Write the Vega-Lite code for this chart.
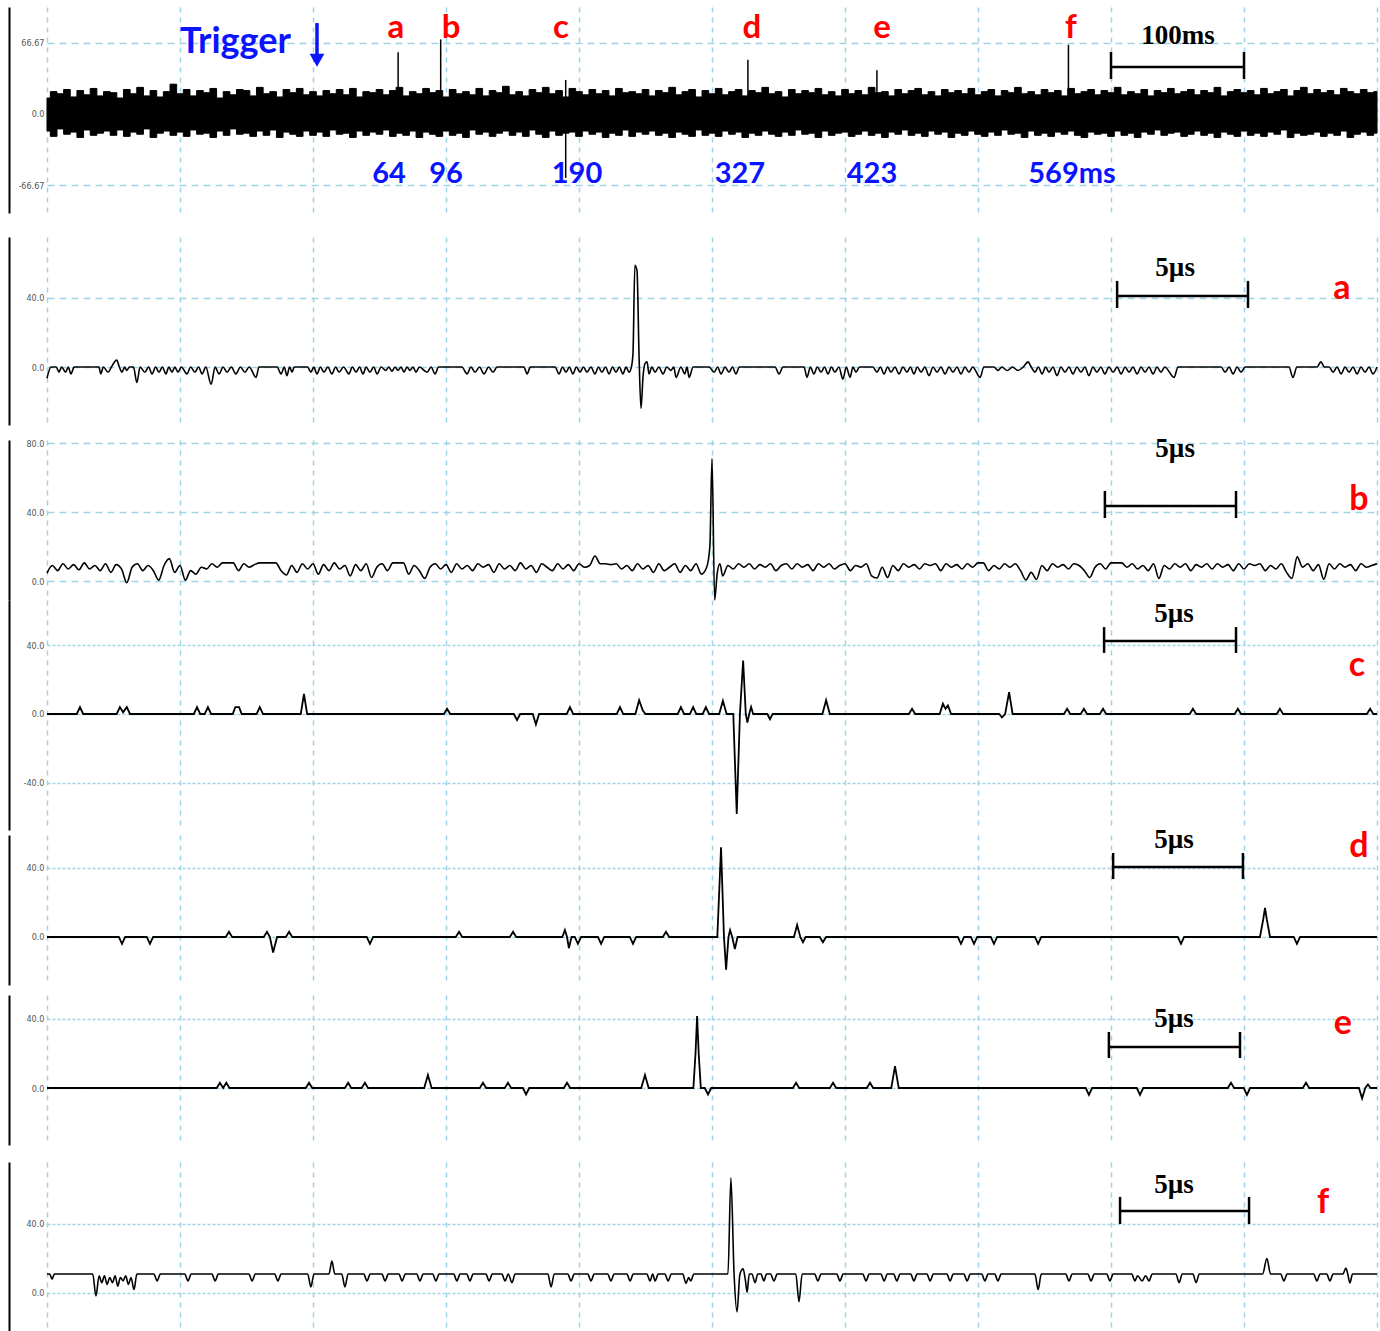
{
"$schema":"https://vega.github.io/schema/vega-lite/v6.json",
"background":"white",
"padding":{"left":9,"top":7,"right":0,"bottom":0},
"autosize":{"type":"pad"},
"config":{"view":{"stroke":null},"axis":{"labelFont":"Liberation Sans Narrow, DejaVu Sans Condensed, sans-serif","labelFontSize":9,"labelColor":"#555","domainColor":"#000","domainWidth":2,"gridColor":"#9fd3e8","gridWidth":1.5,"gridOpacity":1}},
"datasets":{
"top":[{"t":0,"hi":15,"lo":-16},{"t":5,"hi":21,"lo":-21},{"t":10,"hi":19,"lo":-14},{"t":15,"hi":23,"lo":-19},{"t":20,"hi":16,"lo":-17},{"t":25,"hi":22,"lo":-22},{"t":30,"hi":18,"lo":-15},{"t":35,"hi":24,"lo":-20},{"t":40,"hi":17,"lo":-18},{"t":45,"hi":21,"lo":-16},
{"t":50,"hi":20,"lo":-20},{"t":55,"hi":15,"lo":-15},{"t":60,"hi":23,"lo":-21},{"t":65,"hi":19,"lo":-17},{"t":70,"hi":25,"lo":-19},{"t":75,"hi":17,"lo":-14},{"t":80,"hi":22,"lo":-22},{"t":85,"hi":16,"lo":-18},{"t":90,"hi":21,"lo":-16},{"t":95,"hi":28,"lo":-20},
{"t":100,"hi":19,"lo":-17},{"t":105,"hi":23,"lo":-21},{"t":110,"hi":17,"lo":-15},{"t":115,"hi":22,"lo":-19},{"t":120,"hi":20,"lo":-18},{"t":125,"hi":24,"lo":-22},{"t":130,"hi":15,"lo":-16},{"t":135,"hi":21,"lo":-20},{"t":140,"hi":18,"lo":-14},{"t":145,"hi":23,"lo":-19},
{"t":150,"hi":22,"lo":-18},{"t":155,"hi":17,"lo":-21},{"t":160,"hi":25,"lo":-16},{"t":165,"hi":19,"lo":-20},{"t":170,"hi":21,"lo":-15},{"t":175,"hi":16,"lo":-22},{"t":180,"hi":23,"lo":-17},{"t":185,"hi":20,"lo":-19},{"t":190,"hi":24,"lo":-21},{"t":195,"hi":18,"lo":-16},
{"t":200,"hi":21,"lo":-20},{"t":205,"hi":17,"lo":-17},{"t":210,"hi":22,"lo":-21},{"t":215,"hi":19,"lo":-15},{"t":220,"hi":23,"lo":-19},{"t":225,"hi":18,"lo":-18},{"t":230,"hi":24,"lo":-22},{"t":235,"hi":16,"lo":-16},{"t":240,"hi":21,"lo":-20},{"t":245,"hi":20,"lo":-17},
{"t":250,"hi":23,"lo":-19},{"t":255,"hi":18,"lo":-15},{"t":260,"hi":22,"lo":-21},{"t":265,"hi":25,"lo":-18},{"t":270,"hi":17,"lo":-20},{"t":275,"hi":21,"lo":-16},{"t":280,"hi":19,"lo":-22},{"t":285,"hi":24,"lo":-17},{"t":290,"hi":20,"lo":-19},{"t":295,"hi":22,"lo":-21},
{"t":300,"hi":16,"lo":-16},{"t":305,"hi":23,"lo":-20},{"t":310,"hi":19,"lo":-18},{"t":315,"hi":21,"lo":-22},{"t":320,"hi":18,"lo":-15},{"t":325,"hi":24,"lo":-19},{"t":330,"hi":17,"lo":-17},{"t":335,"hi":22,"lo":-21},{"t":340,"hi":20,"lo":-18},{"t":345,"hi":26,"lo":-16},
{"t":350,"hi":18,"lo":-20},{"t":355,"hi":21,"lo":-17},{"t":360,"hi":17,"lo":-21},{"t":365,"hi":23,"lo":-15},{"t":370,"hi":20,"lo":-19},{"t":375,"hi":25,"lo":-22},{"t":380,"hi":19,"lo":-16},{"t":385,"hi":22,"lo":-20},{"t":390,"hi":16,"lo":-18},{"t":395,"hi":24,"lo":-17},
{"t":400,"hi":21,"lo":-21},{"t":405,"hi":18,"lo":-16},{"t":410,"hi":23,"lo":-19},{"t":415,"hi":19,"lo":-17},{"t":420,"hi":22,"lo":-22},{"t":425,"hi":17,"lo":-18},{"t":430,"hi":24,"lo":-20},{"t":435,"hi":20,"lo":-15},{"t":440,"hi":21,"lo":-21},{"t":445,"hi":19,"lo":-17},
{"t":450,"hi":23,"lo":-19},{"t":455,"hi":17,"lo":-16},{"t":460,"hi":22,"lo":-20},{"t":465,"hi":20,"lo":-18},{"t":470,"hi":25,"lo":-22},{"t":475,"hi":18,"lo":-17},{"t":480,"hi":21,"lo":-19},{"t":485,"hi":23,"lo":-21},{"t":490,"hi":16,"lo":-15},{"t":495,"hi":22,"lo":-20},
{"t":500,"hi":19,"lo":-18},{"t":505,"hi":24,"lo":-21},{"t":510,"hi":18,"lo":-16},{"t":515,"hi":21,"lo":-19},{"t":520,"hi":23,"lo":-17},{"t":525,"hi":17,"lo":-22},{"t":530,"hi":22,"lo":-18},{"t":535,"hi":20,"lo":-20},{"t":540,"hi":25,"lo":-16},{"t":545,"hi":19,"lo":-19},
{"t":550,"hi":21,"lo":-21},{"t":555,"hi":16,"lo":-17},{"t":560,"hi":23,"lo":-20},{"t":565,"hi":19,"lo":-15},{"t":570,"hi":22,"lo":-19},{"t":575,"hi":20,"lo":-18},{"t":580,"hi":24,"lo":-22},{"t":585,"hi":18,"lo":-16},{"t":590,"hi":21,"lo":-20},{"t":595,"hi":17,"lo":-18},
{"t":600,"hi":23,"lo":-17},{"t":605,"hi":19,"lo":-21},{"t":610,"hi":22,"lo":-19},{"t":615,"hi":18,"lo":-16},{"t":620,"hi":25,"lo":-20},{"t":625,"hi":20,"lo":-18},{"t":630,"hi":21,"lo":-22},{"t":635,"hi":17,"lo":-17},{"t":640,"hi":23,"lo":-19},{"t":645,"hi":19,"lo":-15},
{"t":650,"hi":22,"lo":-20},{"t":655,"hi":24,"lo":-18},{"t":660,"hi":18,"lo":-21},{"t":665,"hi":21,"lo":-16},{"t":670,"hi":17,"lo":-19},{"t":675,"hi":23,"lo":-17},{"t":680,"hi":20,"lo":-22},{"t":685,"hi":22,"lo":-18},{"t":690,"hi":19,"lo":-20},{"t":695,"hi":24,"lo":-16},
{"t":700,"hi":18,"lo":-19},{"t":705,"hi":21,"lo":-21},{"t":710,"hi":23,"lo":-17},{"t":715,"hi":17,"lo":-20},{"t":720,"hi":22,"lo":-15},{"t":725,"hi":20,"lo":-19},{"t":730,"hi":25,"lo":-18},{"t":735,"hi":19,"lo":-22},{"t":740,"hi":21,"lo":-16},{"t":745,"hi":18,"lo":-20},
{"t":750,"hi":23,"lo":-18},{"t":755,"hi":20,"lo":-21},{"t":760,"hi":22,"lo":-17},{"t":765,"hi":17,"lo":-19},{"t":770,"hi":24,"lo":-16},{"t":775,"hi":19,"lo":-20},{"t":780,"hi":21,"lo":-22},{"t":785,"hi":23,"lo":-17},{"t":790,"hi":18,"lo":-19},{"t":795,"hi":22,"lo":-18},
{"t":800,"hi":20,"lo":-21},{"t":805,"hi":25,"lo":-16},{"t":810,"hi":18,"lo":-20},{"t":815,"hi":21,"lo":-18},{"t":820,"hi":19,"lo":-22},{"t":825,"hi":23,"lo":-17},{"t":830,"hi":17,"lo":-19},{"t":835,"hi":22,"lo":-15},{"t":840,"hi":20,"lo":-20},{"t":845,"hi":24,"lo":-18},
{"t":850,"hi":19,"lo":-17},{"t":855,"hi":21,"lo":-21},{"t":860,"hi":23,"lo":-19},{"t":865,"hi":18,"lo":-16},{"t":870,"hi":22,"lo":-20},{"t":875,"hi":20,"lo":-18},{"t":880,"hi":25,"lo":-22},{"t":885,"hi":17,"lo":-17},{"t":890,"hi":21,"lo":-19},{"t":895,"hi":23,"lo":-21},
{"t":900,"hi":20,"lo":-16},{"t":905,"hi":22,"lo":-20},{"t":910,"hi":18,"lo":-18},{"t":915,"hi":24,"lo":-21},{"t":920,"hi":19,"lo":-17},{"t":925,"hi":21,"lo":-19},{"t":930,"hi":23,"lo":-15},{"t":935,"hi":17,"lo":-22},{"t":940,"hi":22,"lo":-18},{"t":945,"hi":25,"lo":-20},
{"t":950,"hi":19,"lo":-19},{"t":955,"hi":23,"lo":-17},{"t":960,"hi":20,"lo":-21},{"t":965,"hi":22,"lo":-18},{"t":970,"hi":18,"lo":-20},{"t":975,"hi":24,"lo":-16},{"t":980,"hi":21,"lo":-22},{"t":985,"hi":19,"lo":-19},{"t":990,"hi":23,"lo":-17},{"t":995,"hi":20,"lo":-20},
{"t":1000,"hi":21,"lo":-18}],
"topSpikes":[{"t":264,"y":0,"y2":58},{"t":296,"y":0,"y2":70},{"t":390,"y":32,"y2":-60},{"t":527,"y":0,"y2":51},{"t":624,"y":0,"y2":41},{"t":768,"y":0,"y2":65}],
"trigShaft":[{"t":203,"y":85.4,"y2":54}],
"trigHead":[{"t":203,"y":50.5}],
"trigText":[{"t":141.7,"y":57.3,"label":"Trigger"}],
"topLetters":[{"t":262.4,"y":71.4,"label":"a"},{"t":303.8,"y":71.4,"label":"b"},{"t":386.5,"y":71.4,"label":"c"},{"t":530,"y":71.4,"label":"d"},{"t":627.8,"y":71.4,"label":"e"},{"t":769.9,"y":71.4,"label":"f"}],
"topNums":[{"t":257.1,"y":-64.8,"label":"64"},{"t":300,"y":-64.8,"label":"96"},{"t":398.5,"y":-64.8,"label":"190"},{"t":521,"y":-64.8,"label":"327"},{"t":620.3,"y":-64.8,"label":"423"},{"t":770.7,"y":-64.8,"label":"569ms"}],
"bars":[
{"panel":"top","x":800,"x2":900,"y":44.1,"y2":44.1},{"panel":"top","x":800,"x2":800,"y":32.9,"y2":58.2},{"panel":"top","x":900,"x2":900,"y":32.9,"y2":58.2},
{"panel":"a","x":40.23,"x2":45.15,"y":41.2,"y2":41.2},{"panel":"a","x":40.23,"x2":40.23,"y":34.2,"y2":49.9},{"panel":"a","x":45.15,"x2":45.15,"y":34.2,"y2":49.9},
{"panel":"b","x":39.77,"x2":44.7,"y":43.5,"y2":43.5},{"panel":"b","x":39.77,"x2":39.77,"y":36.5,"y2":52.2},{"panel":"b","x":44.7,"x2":44.7,"y":36.5,"y2":52.2},
{"panel":"c","x":39.74,"x2":44.7,"y":42.3,"y2":42.3},{"panel":"c","x":39.74,"x2":39.74,"y":35.4,"y2":50.4},{"panel":"c","x":44.7,"x2":44.7,"y":35.4,"y2":50.4},
{"panel":"d","x":40.08,"x2":44.96,"y":40.6,"y2":40.6},{"panel":"d","x":40.08,"x2":40.08,"y":33.6,"y2":48.7},{"panel":"d","x":44.96,"x2":44.96,"y":33.6,"y2":48.7},
{"panel":"e","x":39.92,"x2":44.85,"y":23.8,"y2":23.8},{"panel":"e","x":39.92,"x2":39.92,"y":17.4,"y2":32.5},{"panel":"e","x":44.85,"x2":44.85,"y":17.4,"y2":32.5},
{"panel":"f","x":40.34,"x2":45.19,"y":47.5,"y2":47.5},{"panel":"f","x":40.34,"x2":40.34,"y":40.0,"y2":55.7},{"panel":"f","x":45.19,"x2":45.19,"y":40.0,"y2":55.7}],
"stext":[{"panel":"top","x":850.4,"y":65.7,"label":"100ms"},{"panel":"a","x":42.41,"y":52.8,"label":"5µs"},{"panel":"b","x":42.41,"y":71.9,"label":"5µs"},{"panel":"c","x":42.37,"y":53.3,"label":"5µs"},{"panel":"d","x":42.37,"y":51.6,"label":"5µs"},{"panel":"e","x":42.37,"y":35.4,"label":"5µs"},{"panel":"f","x":42.37,"y":58.0,"label":"5µs"}],
"letters":[{"panel":"a","x":48.68,"y":39.4,"label":"a"},{"panel":"b","x":49.32,"y":41.2,"label":"b"},{"panel":"c","x":49.25,"y":22.0,"label":"c"},{"panel":"d","x":49.32,"y":46.4,"label":"d"},{"panel":"e","x":48.72,"y":31.3,"label":"e"},{"panel":"f","x":47.97,"y":46.4,"label":"f"}],
"a":[{"x":0,"y":-6.5},{"x":0.15,"y":0},{"x":0.35,"y":0},{"x":0.45,"y":-3},{"x":0.55,"y":0},{"x":0.7,"y":-3},{"x":0.8,"y":0},{"x":0.9,"y":-4},{"x":1.02,"y":0},
{"x":1.95,"y":0},{"x":2.02,"y":-4},{"x":2.12,"y":0},{"x":2.3,"y":-3},{"x":2.42,"y":0},{"x":2.62,"y":4},{"x":2.72,"y":0},{"x":2.82,"y":-3},{"x":2.92,"y":0},{"x":3.0,"y":-2},{"x":3.1,"y":0},{"x":3.25,"y":0},{"x":3.38,"y":-9},{"x":3.5,"y":0},
{"x":3.68,"y":-3},{"x":3.82,"y":0},{"x":3.95,"y":-4},{"x":4.08,"y":0},{"x":4.21,"y":-3},{"x":4.34,"y":0},{"x":4.47,"y":-4},{"x":4.58,"y":0},{"x":4.7,"y":-3},{"x":4.81,"y":0},{"x":4.92,"y":-3},{"x":5.05,"y":0},
{"x":5.26,"y":-4},{"x":5.4,"y":0},{"x":5.56,"y":-3},{"x":5.7,"y":0},{"x":5.83,"y":-4},{"x":5.97,"y":0},{"x":6.17,"y":-10},{"x":6.32,"y":0},{"x":6.47,"y":-4},{"x":6.62,"y":0},{"x":6.77,"y":-3},{"x":6.93,"y":0},{"x":7.1,"y":-4},{"x":7.27,"y":0},{"x":7.44,"y":-3},{"x":7.6,"y":0},{"x":7.86,"y":-6},{"x":7.97,"y":0},
{"x":8.65,"y":0},{"x":8.8,"y":-4},{"x":8.92,"y":0},{"x":9.02,"y":-5},{"x":9.12,"y":0},{"x":9.21,"y":-3},{"x":9.3,"y":0},
{"x":9.8,"y":0},{"x":9.92,"y":-3},{"x":10.03,"y":0},{"x":10.15,"y":-4},{"x":10.28,"y":0},{"x":10.41,"y":-3},{"x":10.56,"y":0},{"x":10.71,"y":-4},{"x":10.85,"y":0},{"x":10.98,"y":-3},{"x":11.15,"y":0},{"x":11.35,"y":-4},{"x":11.48,"y":0},{"x":11.62,"y":-3},{"x":11.75,"y":0},{"x":11.88,"y":-4},{"x":12.0,"y":0},{"x":12.14,"y":-3},{"x":12.28,"y":0},{"x":12.41,"y":-4},{"x":12.56,"y":0},{"x":12.74,"y":-2},{"x":12.85,"y":0},{"x":12.97,"y":-2.5},{"x":13.08,"y":0},{"x":13.2,"y":-2},{"x":13.31,"y":0},{"x":13.42,"y":-3},{"x":13.53,"y":0},{"x":13.65,"y":-2},{"x":13.76,"y":0},{"x":13.87,"y":-3},{"x":14.0,"y":0},{"x":14.29,"y":-3},{"x":14.44,"y":0},{"x":14.59,"y":-4},{"x":14.72,"y":0},
{"x":15.6,"y":0},{"x":15.79,"y":-4},{"x":15.94,"y":0},{"x":16.09,"y":-3},{"x":16.26,"y":0},{"x":16.43,"y":-4},{"x":16.6,"y":0},{"x":16.77,"y":-3},{"x":16.92,"y":0},
{"x":17.93,"y":0},{"x":18.05,"y":-4},{"x":18.17,"y":0},
{"x":19.1,"y":0},{"x":19.25,"y":-4},{"x":19.38,"y":0},{"x":19.51,"y":-3},{"x":19.64,"y":0},{"x":19.77,"y":-4},{"x":19.9,"y":0},{"x":20.04,"y":-3},{"x":20.17,"y":0},{"x":20.3,"y":-3},{"x":20.45,"y":0},{"x":20.6,"y":-4},{"x":20.73,"y":0},{"x":20.86,"y":-3},{"x":21.0,"y":0},{"x":21.13,"y":-4},{"x":21.26,"y":0},{"x":21.39,"y":-3},{"x":21.52,"y":0},{"x":21.65,"y":-4},{"x":21.77,"y":0},{"x":21.88,"y":-3},
{"x":21.97,"y":0},{"x":22.03,"y":8},{"x":22.1,"y":59},{"x":22.18,"y":56},{"x":22.26,"y":5},{"x":22.33,"y":-24},{"x":22.41,"y":-5},{"x":22.48,"y":2},{"x":22.56,"y":3},{"x":22.63,"y":-4},{"x":22.74,"y":0},{"x":22.86,"y":-3},{"x":23.0,"y":0},{"x":23.16,"y":-4},{"x":23.3,"y":0},{"x":23.46,"y":-2},{"x":23.56,"y":0},{"x":23.65,"y":-6},{"x":23.83,"y":0},{"x":23.98,"y":-4},{"x":24.06,"y":0},{"x":24.14,"y":-6},{"x":24.29,"y":0},
{"x":24.89,"y":0},{"x":25.08,"y":-3},{"x":25.21,"y":0},{"x":25.34,"y":-4},{"x":25.49,"y":0},{"x":25.64,"y":-3},{"x":25.77,"y":0},{"x":25.9,"y":-4},{"x":26.03,"y":0},
{"x":27.37,"y":0},{"x":27.52,"y":-4},{"x":27.67,"y":0},
{"x":28.46,"y":0},{"x":28.57,"y":-6},{"x":28.7,"y":0},{"x":28.83,"y":-4},{"x":28.96,"y":0},{"x":29.1,"y":-3},{"x":29.23,"y":0},{"x":29.36,"y":-4},{"x":29.49,"y":0},{"x":29.62,"y":-3},{"x":29.77,"y":0},{"x":29.92,"y":-7},{"x":30.05,"y":0},{"x":30.19,"y":-6},{"x":30.3,"y":0},{"x":30.41,"y":-3},{"x":30.55,"y":0},
{"x":31.05,"y":0},{"x":31.2,"y":-3},{"x":31.33,"y":0},{"x":31.47,"y":-4},{"x":31.6,"y":0},{"x":31.73,"y":-3},{"x":31.88,"y":0},{"x":32.03,"y":-4},{"x":32.18,"y":0},{"x":32.33,"y":-3},{"x":32.46,"y":0},{"x":32.59,"y":-4},{"x":32.72,"y":0},{"x":32.86,"y":-3},{"x":33.0,"y":0},{"x":33.16,"y":-5},{"x":33.31,"y":0},{"x":33.46,"y":-3},{"x":33.61,"y":0},{"x":33.76,"y":-4},{"x":33.91,"y":0},{"x":34.06,"y":-3},{"x":34.21,"y":0},{"x":34.36,"y":-4},{"x":34.51,"y":0},{"x":34.66,"y":-3},{"x":34.8,"y":0},{"x":35.08,"y":-6},{"x":35.22,"y":0},
{"x":35.6,"y":0},{"x":35.75,"y":-2},{"x":35.9,"y":0},{"x":36.1,"y":-2},{"x":36.3,"y":0},{"x":36.5,"y":-2},{"x":36.7,"y":0},{"x":36.88,"y":3},{"x":37.0,"y":0},{"x":37.14,"y":-3},{"x":37.27,"y":0},{"x":37.41,"y":-4},{"x":37.54,"y":0},{"x":37.67,"y":-3},{"x":37.82,"y":0},{"x":37.97,"y":-5},{"x":38.12,"y":0},{"x":38.27,"y":-3},{"x":38.42,"y":0},{"x":38.57,"y":-4},{"x":38.72,"y":0},{"x":38.87,"y":-3},{"x":39.02,"y":0},{"x":39.17,"y":-5},{"x":39.32,"y":0},{"x":39.47,"y":-3},{"x":39.62,"y":0},{"x":39.77,"y":-4},{"x":39.92,"y":0},{"x":40.08,"y":-3},{"x":40.23,"y":0},{"x":40.38,"y":-4},{"x":40.53,"y":0},{"x":40.68,"y":-3},{"x":40.83,"y":0},{"x":40.98,"y":-4},{"x":41.13,"y":0},{"x":41.28,"y":-3},{"x":41.43,"y":0},{"x":41.58,"y":-4},{"x":41.73,"y":0},{"x":41.88,"y":-3},{"x":42.02,"y":0},{"x":42.37,"y":-6},{"x":42.52,"y":0},
{"x":44.14,"y":0},{"x":44.29,"y":-3},{"x":44.44,"y":0},{"x":44.59,"y":-4},{"x":44.74,"y":0},{"x":44.89,"y":-3},{"x":45.04,"y":0},
{"x":46.69,"y":0},{"x":46.84,"y":-6},{"x":46.99,"y":0},
{"x":47.75,"y":0},{"x":47.89,"y":3},{"x":48.02,"y":0},{"x":48.2,"y":0},{"x":48.35,"y":-3},{"x":48.5,"y":0},{"x":48.65,"y":-4},{"x":48.8,"y":0},{"x":48.95,"y":-3},{"x":49.1,"y":0},{"x":49.25,"y":-4},{"x":49.4,"y":0},{"x":49.55,"y":-3},{"x":49.7,"y":0},{"x":49.85,"y":-4},{"x":50,"y":0}],
"b":[{"x":0,"y":4.6},{"x":0.2,"y":9},{"x":0.4,"y":6},{"x":0.6,"y":10},{"x":0.8,"y":7},{"x":1,"y":9.5},{"x":1.2,"y":6.5},{"x":1.4,"y":10.5},{"x":1.6,"y":7},{"x":1.8,"y":9},
{"x":2,"y":6},{"x":2.2,"y":10},{"x":2.4,"y":5},{"x":2.6,"y":9.5},{"x":2.8,"y":7},{"x":3,"y":-1},{"x":3.2,"y":8},{"x":3.4,"y":10},{"x":3.6,"y":6},{"x":3.8,"y":9},
{"x":4,"y":6},{"x":4.2,"y":0.5},{"x":4.4,"y":9},{"x":4.6,"y":13},{"x":4.8,"y":5},{"x":5,"y":9},{"x":5.2,"y":0.5},{"x":5.4,"y":6},{"x":5.6,"y":4},{"x":5.8,"y":8},
{"x":6,"y":7},{"x":6.2,"y":10},{"x":6.4,"y":8},{"x":6.6,"y":10.5},{"x":6.8,"y":10.5},{"x":7,"y":10.5},{"x":7.2,"y":6},{"x":7.4,"y":10},{"x":7.6,"y":8},{"x":7.8,"y":9.5},
{"x":8,"y":10.5},{"x":8.2,"y":10.5},{"x":8.4,"y":10.5},{"x":8.6,"y":10.5},{"x":8.8,"y":6},{"x":9,"y":3.5},{"x":9.2,"y":9},{"x":9.4,"y":5},{"x":9.6,"y":10},{"x":9.8,"y":7},
{"x":10,"y":10},{"x":10.2,"y":4},{"x":10.4,"y":9.5},{"x":10.6,"y":6},{"x":10.8,"y":10.5},{"x":11,"y":7},{"x":11.2,"y":9},{"x":11.4,"y":3},{"x":11.6,"y":9.5},{"x":11.8,"y":6},
{"x":12,"y":10},{"x":12.2,"y":2},{"x":12.4,"y":8},{"x":12.6,"y":10},{"x":12.8,"y":6},{"x":13,"y":10.5},{"x":13.2,"y":10.5},{"x":13.4,"y":10.5},{"x":13.6,"y":4},{"x":13.8,"y":9},
{"x":14,"y":6},{"x":14.2,"y":1.5},{"x":14.4,"y":8},{"x":14.6,"y":10},{"x":14.8,"y":7},{"x":15,"y":9.5},{"x":15.2,"y":5},{"x":15.4,"y":10},{"x":15.6,"y":7},{"x":15.8,"y":9},
{"x":16,"y":6},{"x":16.2,"y":10},{"x":16.4,"y":8},{"x":16.6,"y":9.5},{"x":16.8,"y":5},{"x":17,"y":10},{"x":17.2,"y":7},{"x":17.4,"y":9},{"x":17.6,"y":6},{"x":17.8,"y":10.5},
{"x":18,"y":7},{"x":18.2,"y":9},{"x":18.4,"y":5},{"x":18.6,"y":10},{"x":18.8,"y":8},{"x":19,"y":6},{"x":19.2,"y":10},{"x":19.4,"y":7},{"x":19.6,"y":9.5},{"x":19.8,"y":6},
{"x":20,"y":10},{"x":20.2,"y":8},{"x":20.4,"y":9},{"x":20.6,"y":14.5},{"x":20.8,"y":10},{"x":21,"y":10},{"x":21.2,"y":9.5},{"x":21.4,"y":10},{"x":21.6,"y":7},{"x":21.8,"y":9},
{"x":22,"y":6},{"x":22.2,"y":10},{"x":22.4,"y":7},{"x":22.6,"y":9},{"x":22.8,"y":5},{"x":23,"y":10},{"x":23.2,"y":6},{"x":23.4,"y":8},{"x":23.6,"y":10},{"x":23.8,"y":5},
{"x":24,"y":9},{"x":24.2,"y":6},{"x":24.4,"y":10},{"x":24.6,"y":4},{"x":24.8,"y":8},{"x":24.92,"y":20},{"x":25.0,"y":71},{"x":25.1,"y":-11},{"x":25.2,"y":5},{"x":25.3,"y":10},{"x":25.4,"y":3},{"x":25.6,"y":9},{"x":25.8,"y":7},
{"x":26,"y":10},{"x":26.2,"y":8},{"x":26.4,"y":10},{"x":26.6,"y":7},{"x":26.8,"y":9.5},{"x":27,"y":8},{"x":27.2,"y":10},{"x":27.4,"y":6},{"x":27.6,"y":9},{"x":27.8,"y":10},
{"x":28,"y":7},{"x":28.2,"y":10},{"x":28.4,"y":8},{"x":28.6,"y":9.5},{"x":28.8,"y":6},{"x":29,"y":10},{"x":29.2,"y":8},{"x":29.4,"y":10},{"x":29.6,"y":7},{"x":29.8,"y":9},
{"x":30,"y":10},{"x":30.2,"y":6},{"x":30.4,"y":9},{"x":30.6,"y":8},{"x":30.8,"y":10},{"x":31,"y":3},{"x":31.2,"y":1.7},{"x":31.4,"y":8},{"x":31.6,"y":2},{"x":31.8,"y":9},
{"x":32,"y":6},{"x":32.2,"y":10},{"x":32.4,"y":8},{"x":32.6,"y":9.5},{"x":32.8,"y":7},{"x":33,"y":10},{"x":33.2,"y":9},{"x":33.4,"y":10},{"x":33.6,"y":6},{"x":33.8,"y":10},
{"x":34,"y":8},{"x":34.2,"y":9.5},{"x":34.4,"y":7},{"x":34.6,"y":10},{"x":34.8,"y":8},{"x":35,"y":10.5},{"x":35.2,"y":10.5},{"x":35.4,"y":6},{"x":35.6,"y":9},{"x":35.8,"y":7},
{"x":36,"y":10},{"x":36.2,"y":8},{"x":36.4,"y":10},{"x":36.6,"y":6},{"x":36.8,"y":0.6},{"x":37,"y":5},{"x":37.2,"y":1},{"x":37.4,"y":9},{"x":37.6,"y":6},{"x":37.8,"y":10},
{"x":38,"y":8},{"x":38.2,"y":9.5},{"x":38.4,"y":7},{"x":38.6,"y":10},{"x":38.8,"y":9},{"x":39,"y":6},{"x":39.2,"y":2},{"x":39.4,"y":8},{"x":39.6,"y":10},{"x":39.8,"y":7},
{"x":40,"y":10.5},{"x":40.2,"y":10.5},{"x":40.4,"y":10.5},{"x":40.6,"y":8},{"x":40.8,"y":10},{"x":41,"y":7},{"x":41.2,"y":9},{"x":41.4,"y":6},{"x":41.6,"y":10},{"x":41.8,"y":1.5},
{"x":42,"y":9},{"x":42.2,"y":7},{"x":42.4,"y":10},{"x":42.6,"y":8},{"x":42.8,"y":10},{"x":43,"y":6},{"x":43.2,"y":9.5},{"x":43.4,"y":8},{"x":43.6,"y":10},{"x":43.8,"y":7},
{"x":44,"y":10},{"x":44.2,"y":8},{"x":44.4,"y":9.5},{"x":44.6,"y":6},{"x":44.8,"y":10},{"x":45,"y":7},{"x":45.2,"y":10},{"x":45.4,"y":9},{"x":45.6,"y":10},{"x":45.8,"y":6},
{"x":46,"y":9},{"x":46.2,"y":7},{"x":46.4,"y":10},{"x":46.6,"y":5},{"x":46.8,"y":1.5},{"x":47,"y":14},{"x":47.2,"y":8},{"x":47.4,"y":10},{"x":47.6,"y":6},{"x":47.8,"y":9.5},
{"x":48,"y":1},{"x":48.2,"y":10},{"x":48.4,"y":7},{"x":48.6,"y":10},{"x":48.8,"y":8},{"x":49,"y":9.5},{"x":49.2,"y":6},{"x":49.4,"y":10},{"x":49.6,"y":8},{"x":49.8,"y":9},{"x":50,"y":10}],
"c":[{"x":0,"y":0},{"x":1.12,"y":0},{"x":1.24,"y":4},{"x":1.36,"y":0},{"x":2.62,"y":0},{"x":2.74,"y":4},{"x":2.86,"y":1},{"x":3.0,"y":4},{"x":3.12,"y":0},{"x":5.52,"y":0},{"x":5.64,"y":4},{"x":5.76,"y":0},{"x":5.93,"y":0},{"x":6.05,"y":4},{"x":6.17,"y":0},{"x":6.98,"y":0},{"x":7.08,"y":4},{"x":7.22,"y":4},{"x":7.32,"y":0},{"x":7.88,"y":0},{"x":8.0,"y":4},{"x":8.12,"y":0},{"x":9.54,"y":0},{"x":9.66,"y":11.6},{"x":9.78,"y":0},{"x":14.92,"y":0},{"x":15.04,"y":3},{"x":15.16,"y":0},{"x":17.55,"y":0},{"x":17.67,"y":-3.5},{"x":17.79,"y":0},{"x":18.26,"y":0},{"x":18.38,"y":-6},{"x":18.5,"y":0},{"x":19.54,"y":0},{"x":19.66,"y":4},{"x":19.78,"y":0},{"x":21.42,"y":0},{"x":21.54,"y":4},{"x":21.66,"y":0},{"x":22.12,"y":0},{"x":22.26,"y":8},{"x":22.4,"y":2},{"x":22.5,"y":0},{"x":23.71,"y":0},{"x":23.83,"y":4},{"x":23.95,"y":0},{"x":24.17,"y":0},{"x":24.29,"y":4},{"x":24.41,"y":0},{"x":24.65,"y":0},{"x":24.77,"y":4},{"x":24.89,"y":0},{"x":25.27,"y":0},{"x":25.41,"y":7.7},{"x":25.55,"y":0},{"x":25.8,"y":0},{"x":25.93,"y":-58},{"x":26.05,"y":0},{"x":26.17,"y":31},{"x":26.27,"y":0},{"x":26.33,"y":-5},{"x":26.4,"y":0},{"x":26.47,"y":4},{"x":26.55,"y":0},{"x":27.08,"y":0},{"x":27.18,"y":-3},{"x":27.28,"y":0},{"x":29.15,"y":0},{"x":29.29,"y":8},{"x":29.43,"y":0},{"x":32.4,"y":0},{"x":32.52,"y":3},{"x":32.64,"y":0},{"x":33.56,"y":0},{"x":33.68,"y":6},{"x":33.78,"y":3},{"x":33.87,"y":5},{"x":33.99,"y":0},{"x":35.8,"y":0},{"x":35.9,"y":-2},{"x":36.02,"y":0},{"x":36.17,"y":12.7},{"x":36.3,"y":0},{"x":38.23,"y":0},{"x":38.35,"y":3},{"x":38.47,"y":0},{"x":38.86,"y":0},{"x":38.98,"y":3},{"x":39.1,"y":0},{"x":39.58,"y":0},{"x":39.7,"y":3},{"x":39.82,"y":0},{"x":42.96,"y":0},{"x":43.08,"y":3},{"x":43.2,"y":0},{"x":44.65,"y":0},{"x":44.77,"y":3},{"x":44.89,"y":0},{"x":46.23,"y":0},{"x":46.35,"y":3},{"x":46.47,"y":0},{"x":49.62,"y":0},{"x":49.74,"y":3},{"x":49.86,"y":0},{"x":50,"y":0}],
"d":[{"x":0,"y":0},{"x":2.7,"y":0},{"x":2.82,"y":-4},{"x":2.94,"y":0},{"x":3.75,"y":0},{"x":3.87,"y":-4},{"x":3.99,"y":0},{"x":6.72,"y":0},{"x":6.84,"y":3},{"x":6.96,"y":0},{"x":8.15,"y":0},{"x":8.27,"y":3},{"x":8.38,"y":0},{"x":8.5,"y":-9},{"x":8.65,"y":0},{"x":8.98,"y":0},{"x":9.1,"y":3},{"x":9.22,"y":0},{"x":12.02,"y":0},{"x":12.14,"y":-4},{"x":12.26,"y":0},{"x":15.37,"y":0},{"x":15.49,"y":3},{"x":15.61,"y":0},{"x":17.4,"y":0},{"x":17.52,"y":3},{"x":17.64,"y":0},{"x":19.37,"y":0},{"x":19.47,"y":4},{"x":19.55,"y":0},{"x":19.62,"y":-6.5},{"x":19.72,"y":0},{"x":19.84,"y":0},{"x":19.96,"y":-4},{"x":20.08,"y":0},{"x":20.71,"y":0},{"x":20.83,"y":-4},{"x":20.95,"y":0},{"x":21.91,"y":0},{"x":22.03,"y":-4},{"x":22.15,"y":0},{"x":23.15,"y":0},{"x":23.27,"y":3},{"x":23.39,"y":0},{"x":25.2,"y":0},{"x":25.34,"y":52},{"x":25.45,"y":0},{"x":25.53,"y":-19},{"x":25.62,"y":0},{"x":25.68,"y":4},{"x":25.76,"y":0},{"x":25.86,"y":-7},{"x":25.96,"y":0},{"x":28.08,"y":0},{"x":28.2,"y":7},{"x":28.32,"y":0},{"x":28.42,"y":-3},{"x":28.52,"y":0},{"x":29.05,"y":0},{"x":29.17,"y":-3},{"x":29.29,"y":0},{"x":34.24,"y":0},{"x":34.36,"y":-4},{"x":34.48,"y":0},{"x":34.73,"y":0},{"x":34.85,"y":-4},{"x":34.97,"y":0},{"x":35.48,"y":0},{"x":35.6,"y":-4},{"x":35.72,"y":0},{"x":37.14,"y":0},{"x":37.26,"y":-4},{"x":37.38,"y":0},{"x":42.51,"y":0},{"x":42.63,"y":-4},{"x":42.75,"y":0},{"x":45.6,"y":0},{"x":45.72,"y":10},{"x":45.79,"y":16.8},{"x":45.86,"y":10},{"x":45.98,"y":0},{"x":46.87,"y":0},{"x":46.99,"y":-4},{"x":47.11,"y":0},{"x":50,"y":0}],
"e":[{"x":0,"y":0},{"x":6.38,"y":0},{"x":6.5,"y":3},{"x":6.62,"y":0},{"x":6.74,"y":3},{"x":6.86,"y":0},{"x":9.73,"y":0},{"x":9.85,"y":3},{"x":9.97,"y":0},{"x":11.2,"y":0},{"x":11.32,"y":3},{"x":11.44,"y":0},{"x":11.83,"y":0},{"x":11.95,"y":3},{"x":12.07,"y":0},{"x":14.18,"y":0},{"x":14.32,"y":7.5},{"x":14.46,"y":0},{"x":16.27,"y":0},{"x":16.39,"y":3},{"x":16.51,"y":0},{"x":17.21,"y":0},{"x":17.33,"y":3},{"x":17.45,"y":0},{"x":17.89,"y":0},{"x":18.01,"y":-3.7},{"x":18.13,"y":0},{"x":19.43,"y":0},{"x":19.55,"y":3},{"x":19.67,"y":0},{"x":22.34,"y":0},{"x":22.48,"y":7.5},{"x":22.62,"y":0},{"x":24.3,"y":0},{"x":24.38,"y":20},{"x":24.44,"y":41.7},{"x":24.5,"y":20},{"x":24.58,"y":0},{"x":24.73,"y":0},{"x":24.85,"y":-3.7},{"x":24.97,"y":0},{"x":28.04,"y":0},{"x":28.16,"y":3},{"x":28.28,"y":0},{"x":29.43,"y":0},{"x":29.55,"y":3},{"x":29.67,"y":0},{"x":30.82,"y":0},{"x":30.94,"y":3},{"x":31.06,"y":0},{"x":31.74,"y":0},{"x":31.88,"y":12.7},{"x":32.02,"y":0},{"x":39.05,"y":0},{"x":39.17,"y":-4},{"x":39.29,"y":0},{"x":40.97,"y":0},{"x":41.09,"y":-4},{"x":41.21,"y":0},{"x":44.39,"y":0},{"x":44.51,"y":3},{"x":44.63,"y":0},{"x":44.99,"y":0},{"x":45.11,"y":-4},{"x":45.23,"y":0},{"x":47.21,"y":0},{"x":47.33,"y":3},{"x":47.45,"y":0},{"x":49.32,"y":0},{"x":49.44,"y":-6},{"x":49.56,"y":0},{"x":49.66,"y":2},{"x":49.76,"y":0},{"x":50,"y":0}],
"f":[{"x":0,"y":11},{"x":0.1,"y":11},{"x":0.19,"y":8},{"x":0.28,"y":11},{"x":1.72,"y":11},{"x":1.84,"y":-1.7},{"x":1.96,"y":10},{"x":2.06,"y":6},{"x":2.16,"y":10},{"x":2.26,"y":5},{"x":2.36,"y":9},{"x":2.46,"y":6},{"x":2.56,"y":10},{"x":2.66,"y":4},{"x":2.76,"y":9},{"x":2.86,"y":7},{"x":2.96,"y":10},{"x":3.06,"y":5},{"x":3.16,"y":9},{"x":3.27,"y":2},{"x":3.38,"y":11},
{"x":4.02,"y":11},{"x":4.14,"y":7},{"x":4.26,"y":11},{"x":5.18,"y":11},{"x":5.3,"y":7},{"x":5.42,"y":11},{"x":6.2,"y":11},{"x":6.32,"y":7},{"x":6.44,"y":11},{"x":7.59,"y":11},{"x":7.71,"y":7},{"x":7.83,"y":11},{"x":8.56,"y":11},{"x":8.68,"y":7},{"x":8.8,"y":11},{"x":9.8,"y":11},{"x":9.92,"y":3.5},{"x":10.04,"y":11},{"x":10.6,"y":11},{"x":10.71,"y":18.5},{"x":10.82,"y":11},{"x":11.08,"y":11},{"x":11.2,"y":3.5},{"x":11.32,"y":11},
{"x":11.91,"y":11},{"x":12.03,"y":7},{"x":12.15,"y":11},{"x":12.59,"y":11},{"x":12.71,"y":7},{"x":12.83,"y":11},{"x":13.23,"y":11},{"x":13.35,"y":7},{"x":13.47,"y":11},{"x":13.9,"y":11},{"x":14.02,"y":7},{"x":14.14,"y":11},{"x":14.5,"y":11},{"x":14.62,"y":7},{"x":14.74,"y":11},{"x":15.29,"y":11},{"x":15.41,"y":7},{"x":15.53,"y":11},{"x":15.78,"y":11},{"x":15.9,"y":7},{"x":16.02,"y":11},{"x":16.5,"y":11},{"x":16.62,"y":7},{"x":16.74,"y":11},{"x":17.1,"y":11},{"x":17.22,"y":7},{"x":17.34,"y":11},{"x":17.48,"y":6},{"x":17.6,"y":11},
{"x":18.83,"y":11},{"x":18.95,"y":3.5},{"x":19.07,"y":11},{"x":19.58,"y":11},{"x":19.7,"y":7},{"x":19.82,"y":11},{"x":20.33,"y":11},{"x":20.45,"y":7},{"x":20.57,"y":11},{"x":21.08,"y":11},{"x":21.2,"y":7},{"x":21.32,"y":11},{"x":21.8,"y":11},{"x":21.92,"y":7},{"x":22.04,"y":11},{"x":22.55,"y":11},{"x":22.67,"y":7},{"x":22.77,"y":11},{"x":22.86,"y":7},{"x":22.98,"y":11},{"x":23.23,"y":11},{"x":23.35,"y":7},{"x":23.47,"y":11},{"x":23.9,"y":11},{"x":24.02,"y":5.6},{"x":24.12,"y":9},{"x":24.2,"y":7},{"x":24.32,"y":11},
{"x":25.6,"y":11},{"x":25.71,"y":66.7},{"x":25.83,"y":11},{"x":25.94,"y":-11},{"x":26.05,"y":11},{"x":26.17,"y":14},{"x":26.25,"y":8},{"x":26.32,"y":0.5},{"x":26.4,"y":11},{"x":26.5,"y":11},{"x":26.62,"y":6},{"x":26.72,"y":11},{"x":26.84,"y":11},{"x":26.95,"y":7},{"x":27.05,"y":11},{"x":27.2,"y":11},{"x":27.33,"y":7},{"x":27.45,"y":11},
{"x":28.15,"y":11},{"x":28.27,"y":-5},{"x":28.39,"y":11},{"x":28.86,"y":11},{"x":28.98,"y":7},{"x":29.1,"y":11},{"x":29.69,"y":11},{"x":29.81,"y":7},{"x":29.93,"y":11},{"x":30.67,"y":11},{"x":30.79,"y":7},{"x":30.91,"y":11},{"x":31.35,"y":11},{"x":31.47,"y":7},{"x":31.59,"y":11},{"x":31.83,"y":11},{"x":31.95,"y":7},{"x":32.07,"y":11},{"x":32.47,"y":11},{"x":32.59,"y":7},{"x":32.71,"y":11},{"x":33.08,"y":11},{"x":33.2,"y":7},{"x":33.32,"y":11},{"x":33.83,"y":11},{"x":33.95,"y":7},{"x":34.07,"y":11},{"x":34.47,"y":11},{"x":34.59,"y":7},{"x":34.71,"y":11},{"x":35.14,"y":11},{"x":35.26,"y":7},{"x":35.38,"y":11},{"x":35.63,"y":11},{"x":35.75,"y":7},{"x":35.87,"y":11},
{"x":37.14,"y":11},{"x":37.26,"y":2},{"x":37.38,"y":11},{"x":38.3,"y":11},{"x":38.42,"y":7},{"x":38.54,"y":11},{"x":39.13,"y":11},{"x":39.25,"y":7},{"x":39.37,"y":11},{"x":39.84,"y":11},{"x":39.96,"y":7},{"x":40.08,"y":11},{"x":40.78,"y":11},{"x":40.9,"y":7},{"x":41.0,"y":10},{"x":41.17,"y":7},{"x":41.3,"y":10},{"x":41.43,"y":7},{"x":41.55,"y":11},{"x":42.44,"y":11},{"x":42.56,"y":6},{"x":42.68,"y":11},{"x":43.08,"y":11},{"x":43.2,"y":6},{"x":43.32,"y":11},
{"x":45.7,"y":11},{"x":45.86,"y":20},{"x":46.0,"y":11},{"x":46.38,"y":11},{"x":46.5,"y":7},{"x":46.62,"y":11},{"x":47.62,"y":11},{"x":47.74,"y":7},{"x":47.86,"y":11},{"x":48.11,"y":11},{"x":48.23,"y":7},{"x":48.35,"y":11},{"x":48.72,"y":11},{"x":48.83,"y":14.5},{"x":48.9,"y":11},{"x":48.98,"y":5.8},{"x":49.08,"y":11},{"x":50,"y":11}]
},
"bounds":"flush","spacing":24,
"resolve":{"scale":{"x":"independent","y":"independent"}},
"vconcat":[
{"width":1330,"height":206,
 "layer":[
  {"data":{"name":"top"},"mark":{"type":"area","color":"#000","stroke":"#000","strokeWidth":1,"interpolate":"step"},
   "encoding":{
    "x":{"field":"t","type":"quantitative","scale":{"domain":[0,1000],"nice":false,"zero":false},"axis":{"values":[0,100,200,300,400,500,600,700,800,900,1000],"grid":true,"labels":false,"ticks":false,"domain":false,"title":null,"gridDash":[5,5]}},
    "y":{"field":"hi","type":"quantitative","scale":{"domain":[-92.96,100.47],"nice":false,"zero":false},"axis":{"values":[-66.67,0,66.67],"labelExpr":"datum.value == 0 ? '0.0' : (datum.value < 0 ? '-66.67' : '66.67')","title":null,"offset":38,"ticks":false,"tickSize":0,"labelPadding":-35,"labelAlign":"right","grid":true,"gridDash":[7,5]}},
    "y2":{"field":"lo"}}},
  {"data":{"name":"topSpikes"},"mark":{"type":"rule","color":"#000","strokeWidth":1.5},
   "encoding":{"x":{"field":"t","type":"quantitative"},"y":{"field":"y","type":"quantitative"},"y2":{"field":"y2"}}},
  {"data":{"name":"trigShaft"},"mark":{"type":"rule","color":"#0a14ff","strokeWidth":3.5},
   "encoding":{"x":{"field":"t","type":"quantitative"},"y":{"field":"y","type":"quantitative"},"y2":{"field":"y2"}}},
  {"data":{"name":"trigHead"},"mark":{"type":"point","shape":"triangle-down","filled":true,"color":"#0a14ff","opacity":1,"size":220},
   "encoding":{"x":{"field":"t","type":"quantitative"},"y":{"field":"y","type":"quantitative"}}},
  {"data":{"name":"trigText"},"mark":{"type":"text","font":"Lato","fontWeight":"bold","fontSize":36,"color":"#0a14ff","align":"center","baseline":"alphabetic"},
   "encoding":{"x":{"field":"t","type":"quantitative"},"y":{"field":"y","type":"quantitative"},"text":{"field":"label"}}},
  {"data":{"name":"topLetters"},"mark":{"type":"text","font":"Lato","fontWeight":"bold","fontSize":33,"color":"#ff0000","align":"center","baseline":"alphabetic"},
   "encoding":{"x":{"field":"t","type":"quantitative"},"y":{"field":"y","type":"quantitative"},"text":{"field":"label"}}},
  {"data":{"name":"topNums"},"mark":{"type":"text","font":"Lato","fontWeight":"bold","fontSize":29,"color":"#0a14ff","align":"center","baseline":"alphabetic"},
   "encoding":{"x":{"field":"t","type":"quantitative"},"y":{"field":"y","type":"quantitative"},"text":{"field":"label"}}},
  {"data":{"name":"bars"},"transform":[{"filter":"datum.panel === 'top'"}],"mark":{"type":"rule","color":"#000","strokeWidth":2.5},
   "encoding":{"x":{"field":"x","type":"quantitative"},"x2":{"field":"x2"},"y":{"field":"y","type":"quantitative"},"y2":{"field":"y2"}}},
  {"data":{"name":"stext"},"transform":[{"filter":"datum.panel === 'top'"}],"mark":{"type":"text","font":"Liberation Serif","fontWeight":"bold","fontSize":27,"color":"#000","align":"center","baseline":"alphabetic"},
   "encoding":{"x":{"field":"x","type":"quantitative"},"y":{"field":"y","type":"quantitative"},"text":{"field":"label"}}}
 ]},
{"bounds":"flush","spacing":15,"resolve":{"scale":{"x":"independent","y":"independent"}},
 "vconcat":[
 {"width":1330,"height":188,
  "layer":[
   {"data":{"name":"a"},"mark":{"type":"line","color":"#000","strokeWidth":1.6,"interpolate":"monotone"},
    "encoding":{
     "x":{"field":"x","type":"quantitative","scale":{"domain":[0,50],"nice":false,"zero":false},"axis":{"values":[0,5,10,15,20,25,30,35,40,45,50],"grid":true,"labels":false,"ticks":false,"domain":false,"title":null,"gridDash":[5,5]}},
     "y":{"field":"y","type":"quantitative","scale":{"domain":[-33.62,75.36],"nice":false,"zero":false},"axis":{"values":[0,40],"format":".1f","title":null,"offset":38,"ticks":false,"tickSize":0,"labelPadding":-35,"labelAlign":"right","grid":true,"gridDash":[7,5]}}}},
   {"data":{"name":"bars"},"transform":[{"filter":"datum.panel === 'a'"}],"mark":{"type":"rule","color":"#000","strokeWidth":2.5},
    "encoding":{"x":{"field":"x","type":"quantitative"},"x2":{"field":"x2"},"y":{"field":"y","type":"quantitative"},"y2":{"field":"y2"}}},
   {"data":{"name":"stext"},"transform":[{"filter":"datum.panel === 'a'"}],"mark":{"type":"text","font":"Liberation Serif","fontWeight":"bold","fontSize":27,"color":"#000","align":"center","baseline":"alphabetic"},
    "encoding":{"x":{"field":"x","type":"quantitative"},"y":{"field":"y","type":"quantitative"},"text":{"field":"label"}}},
   {"data":{"name":"letters"},"transform":[{"filter":"datum.panel === 'a'"}],"mark":{"type":"text","font":"Lato","fontWeight":"bold","fontSize":34,"color":"#ff0000","align":"center","baseline":"alphabetic"},
    "encoding":{"x":{"field":"x","type":"quantitative"},"y":{"field":"y","type":"quantitative"},"text":{"field":"label"}}}
  ]},
 {"bounds":"flush","spacing":0,"resolve":{"scale":{"x":"independent","y":"independent"}},
  "vconcat":[
  {"width":1330,"height":160,
   "layer":[
    {"data":{"name":"b"},"mark":{"type":"line","color":"#000","strokeWidth":1.6,"interpolate":"monotone"},
     "encoding":{
      "x":{"field":"x","type":"quantitative","scale":{"domain":[0,50],"nice":false,"zero":false},"axis":{"values":[0,5,10,15,20,25,30,35,40,45,50],"grid":true,"labels":false,"ticks":false,"domain":false,"title":null,"gridDash":[5,5]}},
      "y":{"field":"y","type":"quantitative","scale":{"domain":[-11.01,81.74],"nice":false,"zero":false},"axis":{"values":[0,40,80],"format":".1f","title":null,"offset":38,"ticks":false,"tickSize":0,"labelPadding":-35,"labelAlign":"right","grid":true,"gridDash":[7,5]}}}},
    {"data":{"name":"bars"},"transform":[{"filter":"datum.panel === 'b'"}],"mark":{"type":"rule","color":"#000","strokeWidth":2.5},
     "encoding":{"x":{"field":"x","type":"quantitative"},"x2":{"field":"x2"},"y":{"field":"y","type":"quantitative"},"y2":{"field":"y2"}}},
    {"data":{"name":"stext"},"transform":[{"filter":"datum.panel === 'b'"}],"mark":{"type":"text","font":"Liberation Serif","fontWeight":"bold","fontSize":27,"color":"#000","align":"center","baseline":"alphabetic"},
     "encoding":{"x":{"field":"x","type":"quantitative"},"y":{"field":"y","type":"quantitative"},"text":{"field":"label"}}},
    {"data":{"name":"letters"},"transform":[{"filter":"datum.panel === 'b'"}],"mark":{"type":"text","font":"Lato","fontWeight":"bold","fontSize":34,"color":"#ff0000","align":"center","baseline":"alphabetic"},
     "encoding":{"x":{"field":"x","type":"quantitative"},"y":{"field":"y","type":"quantitative"},"text":{"field":"label"}}}
   ]},
  {"bounds":"flush","spacing":5,"resolve":{"scale":{"x":"independent","y":"independent"}},
   "vconcat":[
   {"width":1330,"height":230,
    "layer":[
     {"data":{"name":"c"},"mark":{"type":"line","color":"#000","strokeWidth":1.8},
      "encoding":{
       "x":{"field":"x","type":"quantitative","scale":{"domain":[0,50],"nice":false,"zero":false},"axis":{"values":[0,5,10,15,20,25,30,35,40,45,50],"grid":true,"labels":false,"ticks":false,"domain":false,"title":null,"gridDash":[5,5]}},
       "y":{"field":"y","type":"quantitative","scale":{"domain":[-67.25,66.09],"nice":false,"zero":false},"axis":{"values":[-40,0,40],"labelExpr":"datum.value < 0 ? '-40.0' : format(datum.value, '.1f')","title":null,"offset":38,"ticks":false,"tickSize":0,"labelPadding":-35,"labelAlign":"right","grid":true,"gridDash":[3,2]}}}},
     {"data":{"name":"bars"},"transform":[{"filter":"datum.panel === 'c'"}],"mark":{"type":"rule","color":"#000","strokeWidth":2.5},
      "encoding":{"x":{"field":"x","type":"quantitative"},"x2":{"field":"x2"},"y":{"field":"y","type":"quantitative"},"y2":{"field":"y2"}}},
     {"data":{"name":"stext"},"transform":[{"filter":"datum.panel === 'c'"}],"mark":{"type":"text","font":"Liberation Serif","fontWeight":"bold","fontSize":27,"color":"#000","align":"center","baseline":"alphabetic"},
      "encoding":{"x":{"field":"x","type":"quantitative"},"y":{"field":"y","type":"quantitative"},"text":{"field":"label"}}},
     {"data":{"name":"letters"},"transform":[{"filter":"datum.panel === 'c'"}],"mark":{"type":"text","font":"Lato","fontWeight":"bold","fontSize":34,"color":"#ff0000","align":"center","baseline":"alphabetic"},
      "encoding":{"x":{"field":"x","type":"quantitative"},"y":{"field":"y","type":"quantitative"},"text":{"field":"label"}}}
    ]},
   {"bounds":"flush","spacing":10,"resolve":{"scale":{"x":"independent","y":"independent"}},
    "vconcat":[
    {"width":1330,"height":150,
     "layer":[
      {"data":{"name":"d"},"mark":{"type":"line","color":"#000","strokeWidth":1.8},
       "encoding":{
        "x":{"field":"x","type":"quantitative","scale":{"domain":[0,50],"nice":false,"zero":false},"axis":{"values":[0,5,10,15,20,25,30,35,40,45,50],"grid":true,"labels":false,"ticks":false,"domain":false,"title":null,"gridDash":[5,5]}},
        "y":{"field":"y","type":"quantitative","scale":{"domain":[-27.83,59.13],"nice":false,"zero":false},"axis":{"values":[0,40],"format":".1f","title":null,"offset":38,"ticks":false,"tickSize":0,"labelPadding":-35,"labelAlign":"right","grid":true,"gridDash":[3,2]}}}},
      {"data":{"name":"bars"},"transform":[{"filter":"datum.panel === 'd'"}],"mark":{"type":"rule","color":"#000","strokeWidth":2.5},
       "encoding":{"x":{"field":"x","type":"quantitative"},"x2":{"field":"x2"},"y":{"field":"y","type":"quantitative"},"y2":{"field":"y2"}}},
      {"data":{"name":"stext"},"transform":[{"filter":"datum.panel === 'd'"}],"mark":{"type":"text","font":"Liberation Serif","fontWeight":"bold","fontSize":27,"color":"#000","align":"center","baseline":"alphabetic"},
       "encoding":{"x":{"field":"x","type":"quantitative"},"y":{"field":"y","type":"quantitative"},"text":{"field":"label"}}},
      {"data":{"name":"letters"},"transform":[{"filter":"datum.panel === 'd'"}],"mark":{"type":"text","font":"Lato","fontWeight":"bold","fontSize":34,"color":"#ff0000","align":"center","baseline":"alphabetic"},
       "encoding":{"x":{"field":"x","type":"quantitative"},"y":{"field":"y","type":"quantitative"},"text":{"field":"label"}}}
     ]},
    {"bounds":"flush","spacing":17,"resolve":{"scale":{"x":"independent","y":"independent"}},
     "vconcat":[
     {"width":1330,"height":150,
      "layer":[
       {"data":{"name":"e"},"mark":{"type":"line","color":"#000","strokeWidth":1.8},
        "encoding":{
         "x":{"field":"x","type":"quantitative","scale":{"domain":[0,50],"nice":false,"zero":false},"axis":{"values":[0,5,10,15,20,25,30,35,40,45,50],"grid":true,"labels":false,"ticks":false,"domain":false,"title":null,"gridDash":[5,5]}},
         "y":{"field":"y","type":"quantitative","scale":{"domain":[-33.04,53.91],"nice":false,"zero":false},"axis":{"values":[0,40],"format":".1f","title":null,"offset":38,"ticks":false,"tickSize":0,"labelPadding":-35,"labelAlign":"right","grid":true,"gridDash":[3,2]}}}},
       {"data":{"name":"bars"},"transform":[{"filter":"datum.panel === 'e'"}],"mark":{"type":"rule","color":"#000","strokeWidth":2.5},
        "encoding":{"x":{"field":"x","type":"quantitative"},"x2":{"field":"x2"},"y":{"field":"y","type":"quantitative"},"y2":{"field":"y2"}}},
       {"data":{"name":"stext"},"transform":[{"filter":"datum.panel === 'e'"}],"mark":{"type":"text","font":"Liberation Serif","fontWeight":"bold","fontSize":27,"color":"#000","align":"center","baseline":"alphabetic"},
        "encoding":{"x":{"field":"x","type":"quantitative"},"y":{"field":"y","type":"quantitative"},"text":{"field":"label"}}},
       {"data":{"name":"letters"},"transform":[{"filter":"datum.panel === 'e'"}],"mark":{"type":"text","font":"Lato","fontWeight":"bold","fontSize":34,"color":"#ff0000","align":"center","baseline":"alphabetic"},
        "encoding":{"x":{"field":"x","type":"quantitative"},"y":{"field":"y","type":"quantitative"},"text":{"field":"label"}}}
      ]},
     {"width":1330,"height":169,
      "layer":[
       {"data":{"name":"f"},"mark":{"type":"line","color":"#000","strokeWidth":1.6,"interpolate":"monotone"},
        "encoding":{
         "x":{"field":"x","type":"quantitative","scale":{"domain":[0,50],"nice":false,"zero":false},"axis":{"values":[0,5,10,15,20,25,30,35,40,45,50],"grid":true,"labels":false,"ticks":false,"domain":false,"title":null,"gridDash":[5,5]}},
         "y":{"field":"y","type":"quantitative","scale":{"domain":[-22.03,75.94],"nice":false,"zero":false},"axis":{"values":[0,40],"format":".1f","title":null,"offset":38,"ticks":false,"tickSize":0,"labelPadding":-35,"labelAlign":"right","grid":true,"gridDash":[3,2]}}}},
       {"data":{"name":"bars"},"transform":[{"filter":"datum.panel === 'f'"}],"mark":{"type":"rule","color":"#000","strokeWidth":2.5},
        "encoding":{"x":{"field":"x","type":"quantitative"},"x2":{"field":"x2"},"y":{"field":"y","type":"quantitative"},"y2":{"field":"y2"}}},
       {"data":{"name":"stext"},"transform":[{"filter":"datum.panel === 'f'"}],"mark":{"type":"text","font":"Liberation Serif","fontWeight":"bold","fontSize":27,"color":"#000","align":"center","baseline":"alphabetic"},
        "encoding":{"x":{"field":"x","type":"quantitative"},"y":{"field":"y","type":"quantitative"},"text":{"field":"label"}}},
       {"data":{"name":"letters"},"transform":[{"filter":"datum.panel === 'f'"}],"mark":{"type":"text","font":"Lato","fontWeight":"bold","fontSize":34,"color":"#ff0000","align":"center","baseline":"alphabetic"},
        "encoding":{"x":{"field":"x","type":"quantitative"},"y":{"field":"y","type":"quantitative"},"text":{"field":"label"}}}
      ]}
     ]}
    ]}
   ]}
  ]}
 ]}
]
}
